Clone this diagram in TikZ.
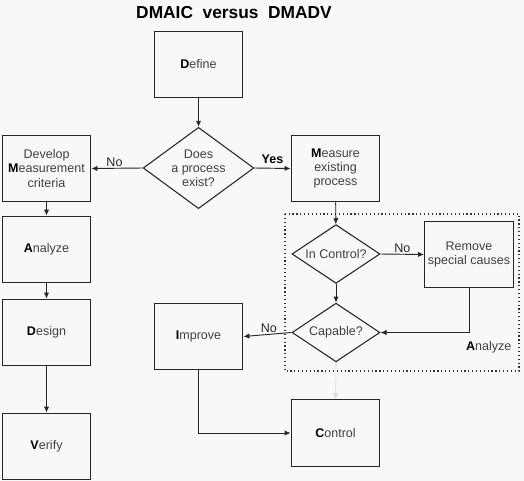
\documentclass[tikz,border=0pt]{standalone}
\usepackage{fontspec}
\setmainfont{Liberation Sans}
\usepackage{tikz}
\usetikzlibrary{shapes.geometric, arrows.meta, positioning}

\definecolor{pagebg}{HTML}{F8F8F8}
\definecolor{txtgray}{HTML}{404040}
\newcommand{\initial}[1]{\textbf{\color{black}#1}}

\begin{document}
\begin{tikzpicture}[
        x=0.75pt, y=-0.75pt,
        font=\fontsize{9.4}{10.6}\selectfont, text=txtgray,
        stepbox/.style={rectangle, draw=black!85, line width=0.9pt, fill=pagebg,
            minimum width=66.5pt, minimum height=50pt, align=center, inner sep=1pt},
        decision/.style={diamond, draw=black!85, line width=0.8pt, fill=pagebg,
            aspect=1.37, inner sep=0pt, align=center},
        arrow/.style={-{Latex[length=4.5pt,width=4pt]}, line width=0.7pt, black!85},
        lbl/.style={font=\fontsize{9.4}{10.6}\selectfont, inner sep=1pt}
    ]
        % page and bounding box
        \fill[pagebg] (0,0) rectangle (524,481);
        \useasboundingbox (0,0) rectangle (524,481);

        % Title
        \node[font=\bfseries\fontsize{13}{15}\selectfont, text=black] (title) at (234,13) {DMAIC\ \ versus\ \ DMADV};

        % Analyze region (dotted)
        \draw[black!80, dotted, line width=0.9pt] (285,214) rectangle (519,371);
        \node[anchor=east] (analyzelbl) at (516,347) {\initial{A}nalyze};

        % Top
        \node[stepbox] (define) at (198.5,64.5) {\initial{D}efine};
        \node[decision, minimum width=83pt, minimum height=61pt] (exist) at (198.5,168) {Does\\a process\\exist?};

        % Left column (DMADV)
        \node[stepbox] (develop) at (46.5,168.5) {Develop\\\initial{M}easurement\\criteria};
        \node[stepbox] (analyzeL) at (46.5,249.5) {\initial{A}nalyze};
        \node[stepbox] (design) at (46.5,332.5) {\initial{D}esign};
        \node[stepbox] (verify) at (46.5,446.5) {\initial{V}erify};

        % Right column (DMAIC)
        \node[stepbox] (measure) at (335.5,168.5) {\initial{M}easure\\existing\\process};
        \node[decision, minimum width=66pt, minimum height=44pt] (inctrl) at (336,254) {In Control?};
        \node[stepbox] (remove) at (469,254.5) {Remove\\special causes};
        \node[decision, minimum width=66pt, minimum height=44pt] (capable) at (336,332.5) {Capable?};
        \node[stepbox] (improve) at (198.5,336.5) {\initial{I}mprove};
        \node[stepbox] (control) at (335.5,433) {\initial{C}ontrol};

        % Arrows
        \draw[arrow] (define) -- (exist);
        \draw[arrow] (exist.west) -- node[lbl, above, pos=0.55] {No} (develop.east);
        \draw[arrow] (exist.east) -- node[lbl, above, pos=0.5, yshift=2pt, text=black, font=\bfseries\fontsize{9.4}{10.6}\selectfont] {Yes} (measure.west);
        \draw[arrow] (develop) -- (analyzeL);
        \draw[arrow] (analyzeL) -- (design);
        \draw[arrow] (design) -- (verify);
        \draw[arrow] (measure) -- (inctrl);
        \draw[arrow] (inctrl.east) -- node[lbl, above, pos=0.5] {No} (remove.west);
        \draw[arrow] (inctrl) -- (capable);
        \draw[arrow] (remove.south) |- (capable.east);
        \draw[arrow] (capable.west) -- node[lbl, above, pos=0.47] {No} (improve.east);
        \draw[arrow] (improve.south) |- (control.west);
        \draw[-{Latex[length=4.5pt,width=4pt]}, line width=0.4pt, black!15] (capable.south) -- (control.north);

    \end{tikzpicture}
\end{document}
